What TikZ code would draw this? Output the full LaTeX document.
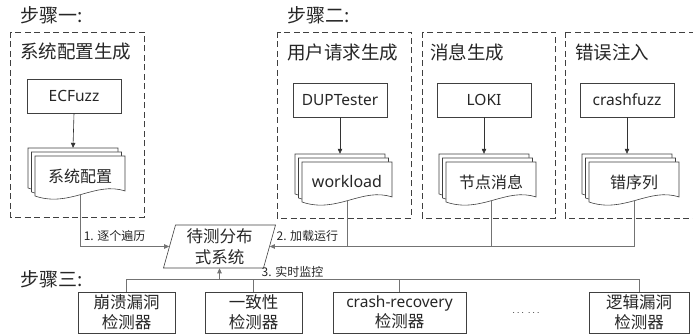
\documentclass[tikz,border=0pt]{standalone}
\usepackage{fontspec}
\setmainfont{Noto Sans CJK SC}
\newfontfamily\latin{Noto Sans}
\usetikzlibrary{positioning,calc,arrows.meta,shapes.geometric}

\tikzset{
  stage/.style={draw=black!75,line width=0.9pt,dash pattern=on 6pt off 3.5pt},
  tool/.style={draw=black!75,line width=0.6pt,minimum width=94pt,minimum height=34pt,
    inner sep=0pt,font=\latin\fontsize{15.5}{18}\selectfont},
  docline/.style={draw=black!75,line width=0.6pt,fill=white},
  doc/.style={minimum width=90pt,minimum height=40pt,inner sep=0pt,
    font=\fontsize{16}{19}\selectfont},
  sutbox/.style={draw=black!75,line width=0.6pt,trapezium,trapezium stretches=true,
    trapezium left angle=76,trapezium right angle=104,minimum width=113pt,
    minimum height=43pt,inner sep=0pt,align=center,font=\fontsize{16.5}{21}\selectfont},
  det/.style={draw=black!75,line width=0.6pt,minimum height=41pt,inner sep=0pt,
    align=center,font=\fontsize{16.5}{20}\selectfont},
  head/.style={anchor=west,inner sep=0pt,font=\fontsize{18.5}{22}\selectfont},
  steplbl/.style={anchor=west,inner sep=0pt,font=\fontsize{19}{22}\selectfont},
  lbl/.style={inner sep=1.5pt,font=\fontsize{12}{14}\selectfont},
  conn/.style={draw=black!55,line width=0.6pt},
  arr/.style={conn,-{Triangle[length=5pt,width=4.5pt]}}
}

% stacked document: name, x, y, text
\newcommand\docstack[4]{%
  \foreach \d in {2,1,0}
    \draw[docline,shift={(#2-3.5*\d,#3-4*\d)}]
      (-45,-20) -- (45,-20) -- (45,15) .. controls (15,5) and (-10,32) .. (-45,20) -- cycle;
  \node[doc] (#1) at (#2,#3) {#4};
}

\begin{document}
\begin{tikzpicture}[x=1pt,y=-1pt,text=black!85]
\useasboundingbox (0,0) rectangle (693,336);

% step labels
\node[steplbl] (s1) at (20,15) {步骤一:};
\node[steplbl] (s2) at (287,15) {步骤二:};
\node[steplbl] (s3) at (20,279) {步骤三:};

% stage frames
\draw[stage] (10,32) rectangle (144,217);
\draw[stage] (277,32) rectangle (411,218);
\draw[stage] (422,32) rectangle (555,218);
\draw[stage] (565,32) rectangle (705,218);
\node[head] (h1) at (20,52) {系统配置生成};
\node[head] (h2) at (287,52) {用户请求生成};
\node[head] (h3) at (430,52) {消息生成};
\node[head] (h4) at (575,52) {错误注入};

% generators
\node[tool] (ecf) at (74,96) {ECFuzz};
\node[tool] (dup) at (340,100) {DUPTester};
\node[tool] (loki) at (484,100) {LOKI};
\node[tool] (cfz) at (627,100) {crashfuzz};

% outputs
\docstack{cfg}{80}{176}{系统配置}
\docstack{wl}{347}{182}{\latin workload}
\docstack{msg}{491}{182}{节点消息}
\docstack{err}{634}{182}{错序列}

\draw[arr,draw=black!80] (ecf.south) -- ($(cfg.north)+(-7,-8)$);
\draw[arr,draw=black!80] (dup.south) -- ($(wl.north)+(-7,-8)$);
\draw[arr,draw=black!80] (loki.south) -- ($(msg.north)+(-7,-8)$);
\draw[arr,draw=black!80] (cfz.south) -- ($(err.north)+(-7,-8)$);

% system under test
\node[sutbox] (sut) at (219.5,246.5) {待测分布\\式系统};

\draw[arr] ($(cfg.south)+(0,-2)$) |- (sut.left side)
  node[lbl,pos=0.5,anchor=south west,xshift=2pt,yshift=3pt] {1. 逐个遍历};
\draw[arr] ($(err.south)+(0,-2)$) |- (sut.right side)
  node[lbl,pos=1,anchor=south west,xshift=5pt,yshift=3pt] {2. 加载运行};
\draw[conn] ($(wl.south)+(0,-2)$) -- (wl.south |- sut.right side);
\draw[conn] ($(msg.south)+(0,-2)$) -- (msg.south |- sut.right side);

% detectors
\node[det,minimum width=97pt] (crash) at (126.5,312.5) {崩溃漏洞\\检测器};
\node[det,minimum width=97pt] (cons) at (253.5,312.5) {一致性\\检测器};
\node[det,minimum width=133pt] (recov) at (399.5,312.5) {{\latin\fontsize{15.5}{20}\selectfont crash-recovery}\\检测器};
\node (dots) at (526,313) {$\cdots\ \cdots$};
\node[det,minimum width=100pt] (logic) at (639,312.5) {逻辑漏洞\\检测器};

\draw[conn] (crash.north) -- ++(0,-12) coordinate (bus) -| (logic.north);
\draw[conn] (cons.north) -- (cons.north |- bus);
\draw[conn] (recov.north) -- (recov.north |- bus);
\draw[arr] (sut.south |- bus) -- (sut.south);
\node[lbl,anchor=west] (mon) at (260,272) {3. 实时监控};
\end{tikzpicture}
\end{document}
